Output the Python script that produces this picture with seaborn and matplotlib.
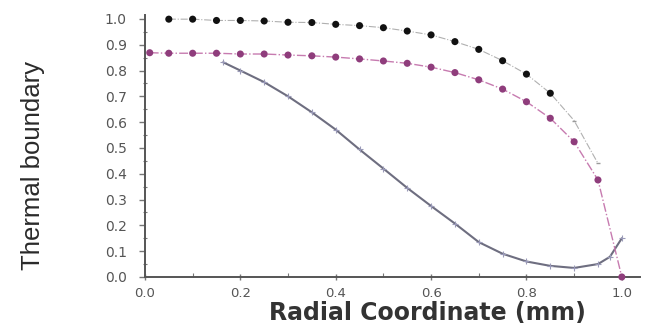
import matplotlib
matplotlib.use("Agg")
import matplotlib.pyplot as plt
import seaborn as sns
import numpy as np
from matplotlib.ticker import MultipleLocator

# ---------------- data ----------------
black_x = [0.05, 0.10, 0.15, 0.20, 0.25, 0.30, 0.35, 0.40, 0.45, 0.50,
           0.55, 0.60, 0.65, 0.70, 0.75, 0.80, 0.85, 0.90, 0.95]
black_y = [0.999, 0.999, 0.994, 0.994, 0.992, 0.987, 0.986, 0.979, 0.974, 0.966,
           0.953, 0.938, 0.912, 0.882, 0.838, 0.786, 0.712, 0.606, 0.44]

pink_x = [0.01, 0.05, 0.10, 0.15, 0.20, 0.25, 0.30, 0.35, 0.40, 0.45, 0.50,
          0.55, 0.60, 0.65, 0.70, 0.75, 0.80, 0.85, 0.90, 0.95, 1.00]
pink_y = [0.869, 0.867, 0.867, 0.867, 0.864, 0.864, 0.860, 0.857, 0.852, 0.845, 0.837,
          0.828, 0.813, 0.792, 0.764, 0.728, 0.679, 0.615, 0.524, 0.376, 0.0]

curve_x = [0.164, 0.20, 0.25, 0.30, 0.35, 0.40, 0.45, 0.50, 0.55, 0.60,
           0.65, 0.70, 0.75, 0.80, 0.85, 0.90, 0.95, 0.975, 1.00]
curve_y = [0.832, 0.800, 0.755, 0.700, 0.638, 0.571, 0.494, 0.420, 0.345, 0.275,
           0.207, 0.135, 0.090, 0.060, 0.043, 0.035, 0.050, 0.078, 0.150]

y_ticks = [0.0, 0.1, 0.2, 0.3, 0.4, 0.5, 0.6, 0.7, 0.8, 0.9, 1.0]
x_ticks = [0.0, 0.2, 0.4, 0.6, 0.8, 1.0]
x_label = "Radial Coordinate (mm)"
y_label = "Thermal boundary"

n_black_marked = 17  # strong black dots; remaining ones are faint

# ---------------- figure ----------------
sns.set_style("ticks")
plt.rcParams['font.family'] = ['DejaVu Sans']

fig = plt.figure(figsize=(6.53, 3.27), dpi=100)
ax = fig.add_axes([0.222, 0.153, 0.758, 0.801])

# lower curve (solid gray with small tick markers)
sns.lineplot(x=curve_x, y=curve_y, ax=ax, color="#6e6e80", lw=1.5,
             marker="+", markersize=4, markeredgecolor="#9a9ab8",
             markeredgewidth=0.8, sort=False)

# black series: dash-dot connecting line
sns.lineplot(x=black_x, y=black_y, ax=ax, color="#b0b0b0", lw=0.8,
             linestyle="-.", sort=False)
sns.scatterplot(x=black_x[:n_black_marked], y=black_y[:n_black_marked], ax=ax,
                color="#111111", s=26, edgecolor="none", clip_on=False, zorder=5)
sns.scatterplot(x=black_x[n_black_marked:], y=black_y[n_black_marked:], ax=ax,
                color="#9a9a9a", s=8, marker="_", linewidth=1.0, zorder=5)

# pink series
sns.lineplot(x=pink_x, y=pink_y, ax=ax, color="#c77bb0", lw=1.0,
             linestyle="-.", sort=False)
sns.scatterplot(x=pink_x, y=pink_y, ax=ax, color="#8f3d7c", s=26,
                edgecolor="none", clip_on=False, zorder=6)

# axes styling
ax.set_xlim(0, 1.038)
ax.set_ylim(0, 1.015)
ax.set_xticks(x_ticks)
ax.set_xticklabels([f"{v:.1f}" for v in x_ticks])
ax.set_yticks(y_ticks)
ax.set_yticklabels([f"{v:.1f}" for v in y_ticks])
ax.xaxis.set_minor_locator(MultipleLocator(0.1))
ax.yaxis.set_minor_locator(MultipleLocator(0.05))

for side in ["top", "right"]:
    ax.spines[side].set_visible(False)
for side in ["left", "bottom"]:
    ax.spines[side].set_color("#555555")
    ax.spines[side].set_linewidth(1.4)

ax.tick_params(axis="y", which="major", direction="out", length=4, width=1,
               color="#777777", pad=9, labelsize=10, labelcolor="#555555")
ax.tick_params(axis="y", which="minor", direction="inout", length=3, width=0.8,
               color="#777777")
ax.tick_params(axis="x", which="major", direction="inout", length=4, width=1,
               color="#777777", pad=5, labelsize=9.5, labelcolor="#555555")
ax.tick_params(axis="x", which="minor", direction="in", length=3, width=0.8,
               color="#777777")

ax.set_xlabel(x_label, fontsize=17, fontweight="bold", color="#333333",
              va="top")
ax.xaxis.set_label_coords(0.57, -0.09)
ax.set_ylabel(y_label, fontsize=18.5, color="#2a2a2a",
              family=["Liberation Sans Narrow", "Liberation Sans", "DejaVu Sans"])
ax.yaxis.set_label_coords(-0.202, 0.424)

fig.savefig("out.png", dpi=100, facecolor="white")
